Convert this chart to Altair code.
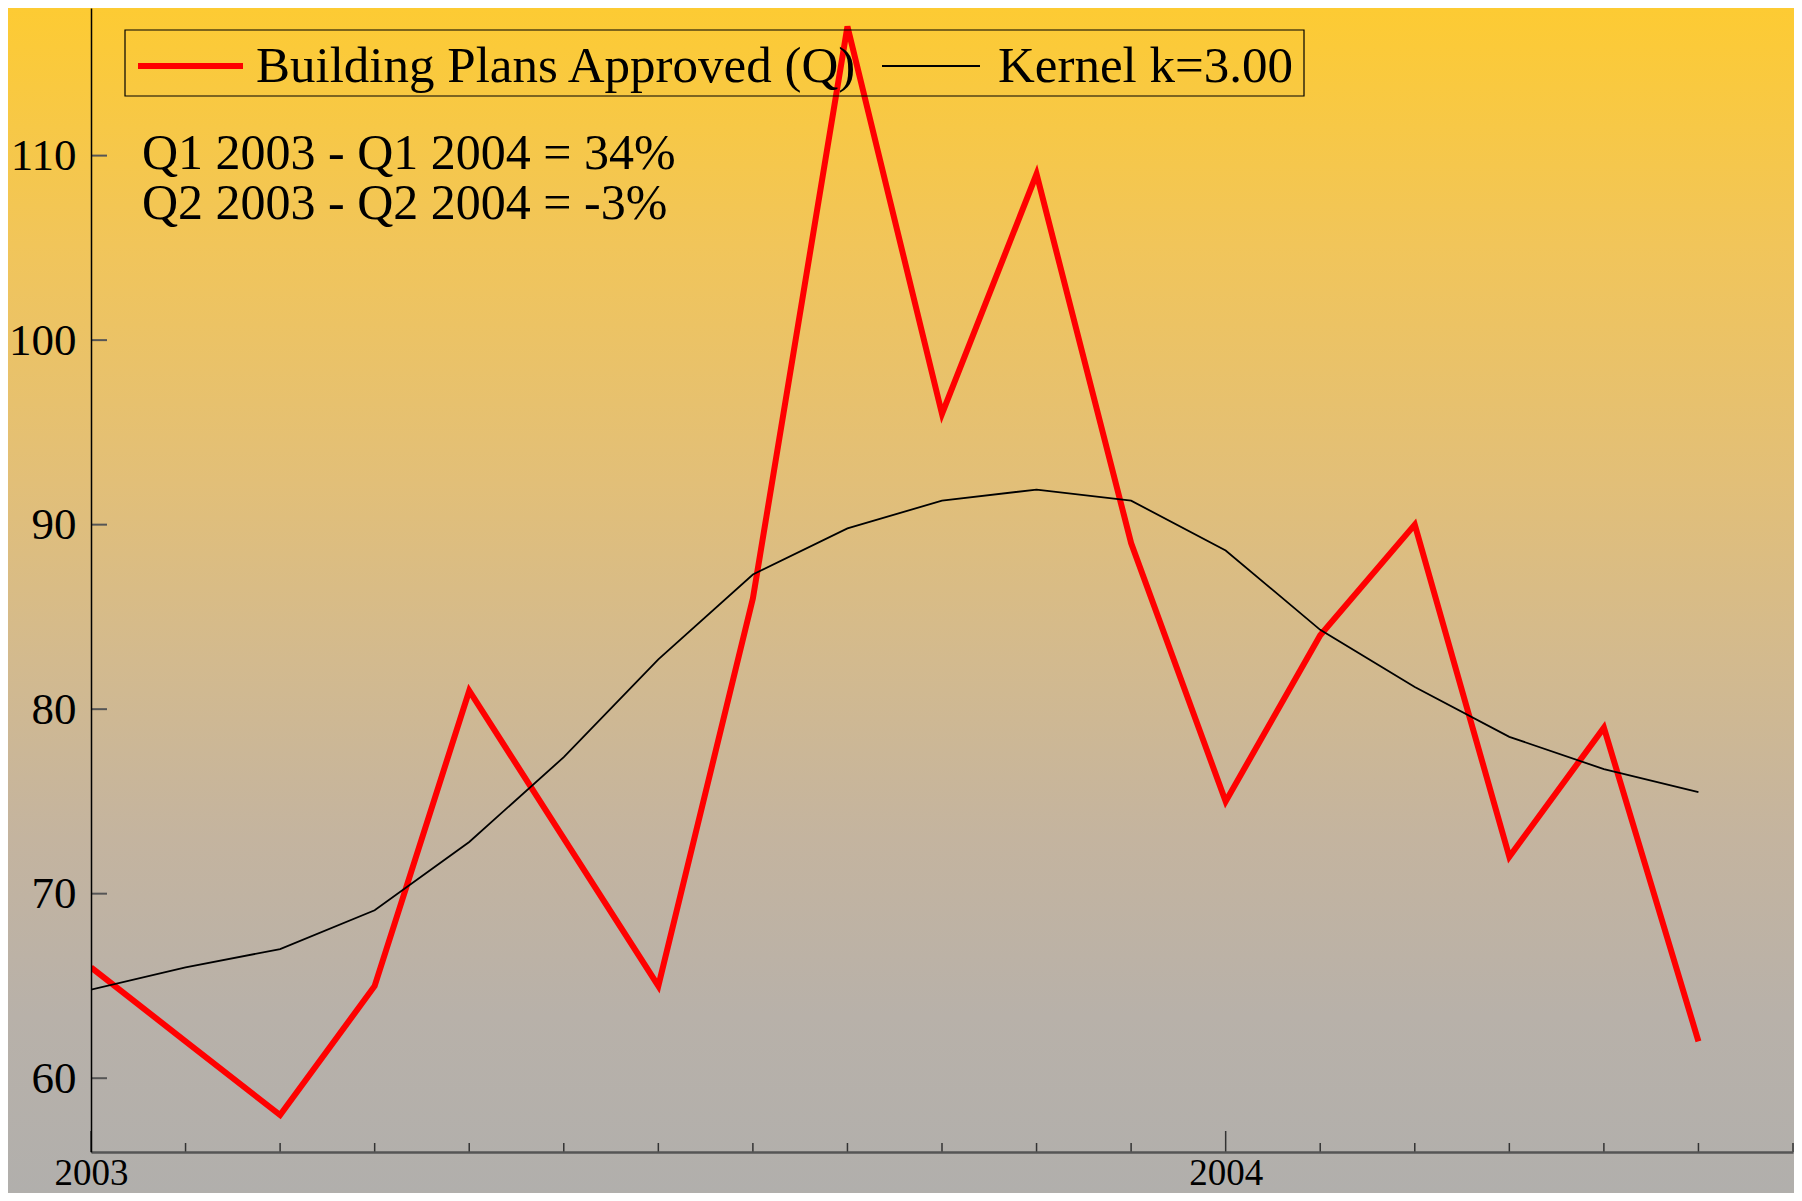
import altair as alt
import pandas as pd

# ---------------- data ----------------
month_index = list(range(18))  # Jan 2003 .. Jun 2004
approved = [66, 62, 58, 65, 81, 73, 65, 86, 117, 96, 109, 89,
            75, 84, 90, 72, 79, 62]
kernel = [64.8, 66.0, 67.0, 69.1, 72.8, 77.4, 82.7, 87.3, 89.8, 91.3, 91.9, 91.3,
          88.6, 84.3, 81.2, 78.5, 76.75, 75.5]
series_names = ["Building Plans Approved (Q)", "Kernel k=3.00"]
series_colors = ["#FF0000", "#000000"]
series_widths = [6, 1.8]
year_labels = ["2003", "2004"]
year_positions = [0, 12]
minor_ticks = [1, 2, 3, 4, 5, 6, 7, 8, 9, 10, 11, 13, 14, 15, 16, 17, 18]
y_ticks = [60, 70, 80, 90, 100, 110]
notes = ["Q1 2003 - Q1 2004 = 34%", "Q2 2003 - Q2 2004 = -3%"]

W, H = 1702, 1144
PAD_L, PAD_R, PAD_B = 83, 1, 41
FONT = "Liberation Serif"

rows = []
for m, v in zip(month_index, approved):
    rows.append({"m": m, "v": v, "s": series_names[0]})
for m, v in zip(month_index, kernel):
    rows.append({"m": m, "v": v, "s": series_names[1]})
df = pd.DataFrame(rows)

xscale = alt.Scale(domain=[0, 18], nice=False, zero=False)
yscale = alt.Scale(domain=[56, 118], nice=False, zero=False)

label_expr = " : ".join(
    [f"datum.value == {p} ? '{l}'" for p, l in zip(year_positions, year_labels)]
) + " : ''"

x_axis = alt.Axis(
    values=year_positions, labelExpr=label_expr, grid=False, ticks=False, tickSize=0,
    labelPadding=3, labelFont=FONT, labelFontSize=37, labelColor="black",
    labelFlush=False, domainColor="#555555", domainWidth=2.5, title=None, zindex=1)
y_axis = alt.Axis(
    values=y_ticks, grid=False, ticks=False, tickSize=0, labelPadding=15, labelFont=FONT,
    labelFontSize=45, labelColor="black", labelFlush=False, domainColor="black",
    domainWidth=1.5, title=None, zindex=1)

# background gradient
bg = alt.Chart(alt.Data(values=[{}])).mark_rect(
    fill=alt.Gradient(
        gradient="linear",
        stops=[
            alt.GradientStop(color="#FDCB33", offset=0),
            alt.GradientStop(color="#F1C55A", offset=0.2),
            alt.GradientStop(color="#E2BF78", offset=0.4),
            alt.GradientStop(color="#D3BA8E", offset=0.55),
            alt.GradientStop(color="#C4B49F", offset=0.7),
            alt.GradientStop(color="#B8B1A9", offset=0.85),
            alt.GradientStop(color="#B1AFAC", offset=1),
        ],
        x1=0, x2=0, y1=0, y2=1,
    )
).encode(
    x=alt.value(-PAD_L), x2=alt.value(W + PAD_R),
    y=alt.value(0), y2=alt.value(H + PAD_B),
)

lines = alt.Chart(df).mark_line(clip=True).encode(
    x=alt.X("m:Q", scale=xscale, axis=x_axis),
    y=alt.Y("v:Q", scale=yscale, axis=y_axis),
    color=alt.Color("s:N", scale=alt.Scale(domain=series_names, range=series_colors),
                    legend=None),
    strokeWidth=alt.StrokeWidth("s:N", scale=alt.Scale(domain=series_names, range=series_widths),
                                legend=None),
    order=alt.Order("m:Q"),
)

ytick_layer = alt.Chart(pd.DataFrame({"v": y_ticks})).mark_rule(
    color="#555555", strokeWidth=2
).encode(
    y=alt.Y("v:Q", scale=yscale, axis=y_axis),
    x=alt.value(0), x2=alt.value(16),
)

minor_layer = alt.Chart(pd.DataFrame({"m": minor_ticks})).mark_rule(
    color="#333333", strokeWidth=1.5
).encode(
    x=alt.X("m:Q", scale=xscale, axis=x_axis),
    y=alt.value(H), y2=alt.value(H - 9),
)

major_layer = alt.Chart(pd.DataFrame({"m": year_positions})).mark_rule(
    color="#333333", strokeWidth=1.5
).encode(
    x=alt.X("m:Q", scale=xscale, axis=x_axis),
    y=alt.value(H), y2=alt.value(H - 21),
)

note_layer = alt.Chart(alt.Data(values=[{}])).mark_text(
    text=notes, font=FONT, fontSize=50, color="black", align="left",
    baseline="alphabetic", lineHeight=50,
).encode(x=alt.value(51), y=alt.value(161))

# legend (drawn by hand so that the box keeps the reference's proportions)
legend_box = alt.Chart(alt.Data(values=[{}])).mark_rect(
    fillOpacity=0, stroke="black", strokeWidth=1.2
).encode(x=alt.value(34), x2=alt.value(1213), y=alt.value(22), y2=alt.value(88))

leg_sym_x = [(47, 152), (791, 889)]
leg_lab_x = [165, 907]
legend_layers = []
for name, col, sw, (sx1, sx2), lx in zip(series_names, series_colors, series_widths,
                                        leg_sym_x, leg_lab_x):
    legend_layers.append(
        alt.Chart(alt.Data(values=[{}])).mark_rule(color=col, strokeWidth=sw).encode(
            x=alt.value(sx1), x2=alt.value(sx2), y=alt.value(58))
    )
    legend_layers.append(
        alt.Chart(alt.Data(values=[{}])).mark_text(
            text=name, font=FONT, fontSize=51, color="black", align="left",
            baseline="alphabetic").encode(x=alt.value(lx), y=alt.value(74))
    )

chart = alt.layer(
    bg, ytick_layer, minor_layer, major_layer, lines, note_layer, legend_box,
    *legend_layers
).resolve_scale(
    x="shared", y="shared"
).properties(
    width=W, height=H,
    autosize=alt.AutoSizeParams(type="none"),
    padding={"left": PAD_L, "top": 0, "right": PAD_R, "bottom": PAD_B},
).configure_view(
    strokeWidth=0
).configure(
    background="#B1AFAC"
)

chart.save("out.html", embed_options={"renderer": "svg", "actions": False})
